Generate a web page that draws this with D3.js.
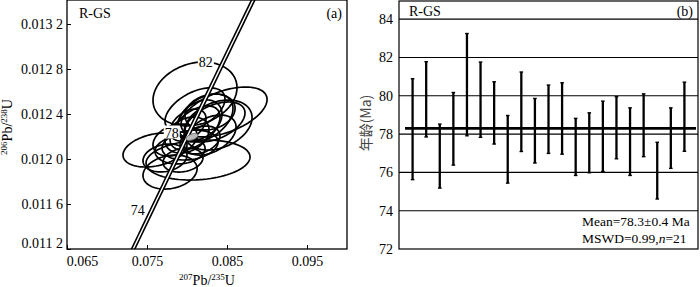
<!DOCTYPE html>
<html>
<head>
<meta charset="utf-8">
<script src="https://cdn.jsdelivr.net/npm/d3@7"></script>
<style>
  body { margin: 0; background: #fff; }
  svg { display: block; }
  text { font-family: "Liberation Serif", "Times New Roman", serif; fill: #000; }
</style>
</head>
<body>
<svg id="chart" width="700" height="287"></svg>
<script>
// ---- panel (a): concordia data ----
// ellipse centres (207Pb/235U, 206Pb/238U), half widths and error correlation
const ellX   = [0.0810, 0.08463, 0.08138, 0.0760, 0.07788, 0.08388, 0.08225, 0.0810, 0.0800, 0.08038, 0.08163,
                0.07913, 0.08288, 0.0810, 0.0785, 0.08288, 0.08013, 0.07725, 0.08163, 0.0835, 0.0795];
const ellY   = [0.012578, 0.012418, 0.011991, 0.012080, 0.011884, 0.012302, 0.012364, 0.012276, 0.012213, 0.012124, 0.012347,
                0.012080, 0.012213, 0.012436, 0.012169, 0.012418, 0.012302, 0.012009, 0.012169, 0.012329, 0.011991];
const ellSX  = [0.00525, 0.00538, 0.0065, 0.0040, 0.00338, 0.00425, 0.0035, 0.00313, 0.00275, 0.0035, 0.00275,
                0.00313, 0.00325, 0.00375, 0.00275, 0.00313, 0.00225, 0.00275, 0.0025, 0.00375, 0.0025];
const ellSY  = [0.000284, 0.000222, 0.000178, 0.000151, 0.000151, 0.000222, 0.000213, 0.000196, 0.000160, 0.000133, 0.000178,
                0.000124, 0.000178, 0.000196, 0.000142, 0.000160, 0.000142, 0.000124, 0.000124, 0.000178, 0.000107];
const ellRho = [0.2, 0.5, 0.15, 0.3, 0.2, 0.3, 0.4, 0.5, 0.3, 0.2, 0.3,
                0.1, 0.4, 0.5, 0.3, 0.2, 0.4, 0.2, 0.3, 0.45, 0.2];
// concordia age (mean) ellipse
const meanEll = { x: 0.08063, y: 0.012196, sx: 0.00075, sy: 0.000031, rho: 0.5 };

const xTicksA = [0.065, 0.075, 0.085, 0.095];
const yTicksA = [0.0112, 0.0116, 0.0120, 0.0124, 0.0128, 0.0132];
const concordiaAges = d3.range(60, 96, 0.5);   // Ma
const markerAges = [74, 78, 82];
const LAMBDA238 = 1.55125e-10, LAMBDA235 = 9.8485e-10;

// ---- panel (b): weighted mean ages ----
const spots   = d3.range(1, 22);
const ageHigh = [80.89, 81.78, 78.52, 80.17, 83.25, 81.76, 80.73, 78.97, 81.24, 79.86, 80.56,
                 80.68, 78.82, 79.11, 79.72, 79.95, 79.37, 80.10, 77.57, 79.37, 80.71];
const ageLow  = [75.62, 77.85, 75.18, 76.38, 77.91, 77.83, 77.48, 75.44, 77.09, 76.49, 76.99,
                 76.95, 75.84, 75.98, 76.05, 76.71, 75.84, 76.82, 74.61, 76.21, 77.10];
const meanAge = 78.3;
const yTicksB = [72, 74, 76, 78, 80, 82, 84];

const svg = d3.select("#chart");

// ================= panel (a) =================
const xA = d3.scaleLinear().domain([0.065, 0.1]).range([67, 347]);
const yA = d3.scaleLinear().domain([0.0112, 0.0134133]).range([249, 0]);

svg.append("clipPath").attr("id", "clipA")
  .append("rect").attr("x", 67).attr("y", 0).attr("width", 280).attr("height", 249);

const gA = svg.append("g");
const plotA = gA.append("g").attr("clip-path", "url(#clipA)");

const ellipsePath = (cx, cy, sx, sy, rho) => {
  const ts = d3.range(0, 2 * Math.PI, Math.PI / 45);
  const s = Math.sqrt(1 - rho * rho);
  return d3.line().curve(d3.curveLinearClosed)
    .x(t => xA(cx + sx * Math.cos(t)))
    .y(t => yA(cy + sy * (rho * Math.cos(t) + s * Math.sin(t))))(ts);
};

plotA.append("g")
  .selectAll("path")
  .data(ellX.map((x, i) => i))
  .enter()
  .append("path")
  .attr("d", i => ellipsePath(ellX[i], ellY[i], ellSX[i], ellSY[i], ellRho[i]))
  .attr("fill", "none")
  .attr("stroke", "#000")
  .attr("stroke-width", 1.7);

// concordia curve drawn as a double line
const concordia = d3.line()
  .x(t => xA(Math.exp(LAMBDA235 * t * 1e6) - 1))
  .y(t => yA(Math.exp(LAMBDA238 * t * 1e6) - 1));
plotA.append("path").attr("d", concordia(concordiaAges))
  .attr("fill", "none").attr("stroke", "#000").attr("stroke-width", 4.6);
plotA.append("path").attr("d", concordia(concordiaAges))
  .attr("fill", "none").attr("stroke", "#fff").attr("stroke-width", 1.4);

plotA.append("path")
  .attr("d", ellipsePath(meanEll.x, meanEll.y, meanEll.sx, meanEll.sy, meanEll.rho))
  .attr("fill", "#bbb").attr("stroke", "#666").attr("stroke-width", 1);

// age labels on the concordia
const markers = plotA.append("g")
  .selectAll("g")
  .data(markerAges)
  .enter()
  .append("g")
  .attr("transform", t => `translate(${concordia.x()(t)},${concordia.y()(t)})`);
markers.append("rect")
  .attr("x", -22).attr("y", -14).attr("width", 16).attr("height", 13)
  .attr("fill", d => d === 74 ? "none" : "#fff");
markers.append("text")
  .attr("x", -14).attr("y", d => d === 74 ? 5 : -2)
  .attr("text-anchor", "middle")
  .attr("font-size", 14)
  .text(d => d);

// axes
gA.append("g")
  .attr("transform", "translate(0,249)")
  .call(d3.axisBottom(xA).tickValues(xTicksA).tickSize(-4).tickPadding(7).tickFormat(d3.format(".3f")))
  .call(g => g.select(".domain").remove())
  .call(g => g.selectAll(".tick line").attr("stroke", "#000"))
  .call(g => g.selectAll(".tick text").attr("font-size", 14).attr("dy", "0.71em")
    .attr("font-family", "Liberation Serif")
    .attr("dx", d => d === 0.065 ? 15 : 0));

gA.append("g")
  .attr("transform", "translate(67,0)")
  .call(d3.axisLeft(yA).tickValues(yTicksA).tickSize(-4)
    .tickFormat(d => { const s = d3.format(".4f")(d); return s.slice(0, -1) + " " + s.slice(-1); }))
  .call(g => g.select(".domain").remove())
  .call(g => g.selectAll(".tick line").attr("stroke", "#000"))
  .call(g => g.selectAll(".tick text").attr("font-size", 14).attr("x", -4)
    .attr("font-family", "Liberation Serif")
    .attr("dy", d => d === 0.0112 ? "-0.1em" : "0.32em"));

gA.append("rect")
  .attr("x", 67).attr("y", 0).attr("width", 280).attr("height", 249)
  .attr("fill", "none").attr("stroke", "#000").attr("stroke-width", 1.3);

gA.append("text").attr("x", 79).attr("y", 18).attr("font-size", 14).text("R-GS");
gA.append("text").attr("x", 342).attr("y", 18).attr("font-size", 14).attr("text-anchor", "end").text("(a)");

const xLab = gA.append("text").attr("x", 207).attr("y", 285).attr("text-anchor", "middle").attr("font-size", 14);
xLab.append("tspan").attr("font-size", 9).attr("dy", -5).text("207");
xLab.append("tspan").attr("dy", 5).text("Pb/");
xLab.append("tspan").attr("font-size", 9).attr("dy", -5).text("235");
xLab.append("tspan").attr("dy", 5).text("U");

const yLab = gA.append("text")
  .attr("transform", "translate(12,127) rotate(-90)")
  .attr("text-anchor", "middle").attr("font-size", 14);
yLab.append("tspan").attr("font-size", 9).attr("dy", -5).text("206");
yLab.append("tspan").attr("dy", 5).text("Pb/");
yLab.append("tspan").attr("font-size", 9).attr("dy", -5).text("238");
yLab.append("tspan").attr("dy", 5).text("U");

// ================= panel (b) =================
const xB = d3.scalePoint().domain(spots).range([399, 698]).padding(1);
const yB = d3.scaleLinear().domain([72, 85]).range([249, 0]);

const gB = svg.append("g");

gB.append("g")
  .selectAll("line")
  .data(yTicksB.filter(d => d > 72))
  .enter()
  .append("line")
  .attr("x1", 399).attr("x2", 698)
  .attr("y1", d => yB(d)).attr("y2", d => yB(d))
  .attr("stroke", "#000").attr("stroke-width", 1.1);

gB.append("g")
  .attr("transform", "translate(399,0)")
  .call(d3.axisLeft(yB).tickValues(yTicksB).tickSize(0).tickPadding(6))
  .call(g => g.select(".domain").remove())
  .call(g => g.selectAll(".tick text").attr("font-size", 14).attr("font-family", "Liberation Serif")
    .attr("fill", "#222"));

gB.append("line")
  .attr("x1", 405).attr("x2", 696)
  .attr("y1", yB(meanAge)).attr("y2", yB(meanAge))
  .attr("stroke", "#000").attr("stroke-width", 2.6);

const bars = gB.append("g")
  .selectAll("g")
  .data(spots)
  .enter()
  .append("g");
bars.append("line")
  .attr("x1", d => xB(d)).attr("x2", d => xB(d))
  .attr("y1", (d, i) => yB(ageHigh[i])).attr("y2", (d, i) => yB(ageLow[i]))
  .attr("stroke", "#000").attr("stroke-width", 2.3);
bars.append("line")
  .attr("x1", d => xB(d) - 1.8).attr("x2", d => xB(d) + 1.8)
  .attr("y1", (d, i) => yB(ageHigh[i])).attr("y2", (d, i) => yB(ageHigh[i]))
  .attr("stroke", "#000").attr("stroke-width", 1.4);
bars.append("line")
  .attr("x1", d => xB(d) - 1.8).attr("x2", d => xB(d) + 1.8)
  .attr("y1", (d, i) => yB(ageLow[i])).attr("y2", (d, i) => yB(ageLow[i]))
  .attr("stroke", "#000").attr("stroke-width", 1.4);

gB.append("rect")
  .attr("x", 399).attr("y", 1).attr("width", 299).attr("height", 248)
  .attr("fill", "none").attr("stroke", "#000").attr("stroke-width", 1.2);

gB.append("text").attr("x", 409).attr("y", 16).attr("font-size", 14).text("R-GS");
gB.append("text").attr("x", 693).attr("y", 16).attr("font-size", 14).attr("text-anchor", "end").text("(b)");

gB.append("text").attr("x", 582).attr("y", 226).attr("font-size", 13.5).text("Mean=78.3±0.4 Ma");
const mswd = gB.append("text").attr("x", 582).attr("y", 243).attr("font-size", 13.5);
mswd.append("tspan").text("MSWD=0.99,");
mswd.append("tspan").attr("font-style", "italic").text("n");
mswd.append("tspan").text("=21");

gB.append("text")
  .attr("transform", "translate(371,123) rotate(-90)")
  .attr("text-anchor", "middle")
  .attr("font-size", 14)
  .style("font-family", "'Noto Sans CJK SC', 'Noto Sans', sans-serif")
  .style("fill", "#444")
  .text("年龄(Ma)");
</script>
</body>
</html>
